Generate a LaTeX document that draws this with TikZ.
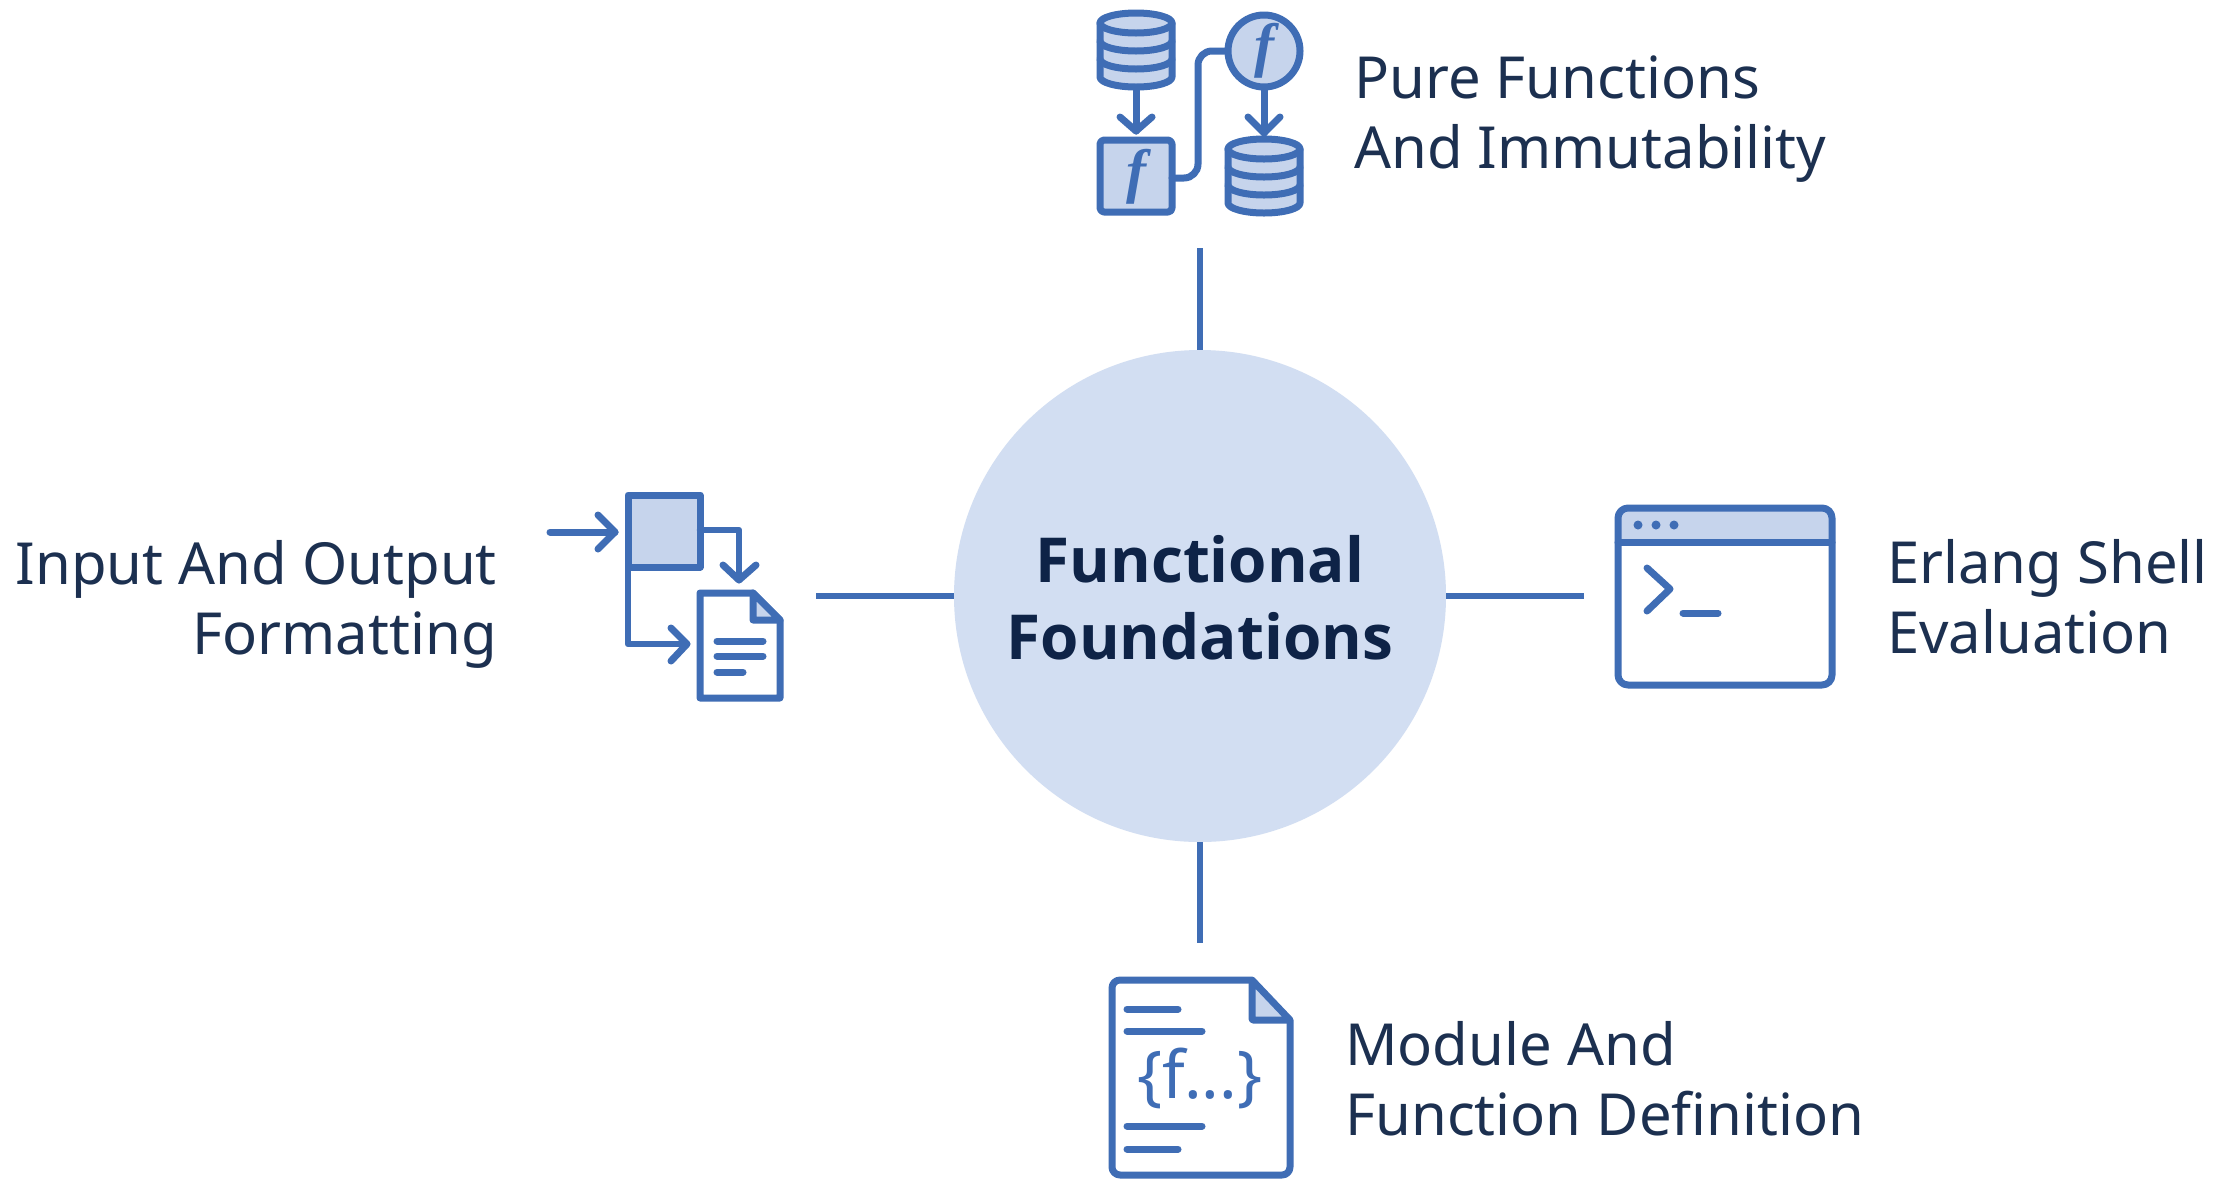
\documentclass[tikz,border=0pt]{standalone}
\usepackage{fontspec}
\setmainfont{Noto Sans}
\newfontfamily\hubfont{Open Sans}
\newfontfamily\funcfont{Liberation Serif}
\usetikzlibrary{calc}
\definecolor{iconblue}{HTML}{3F6DB5}
\definecolor{iconfill}{HTML}{C6D4EC}
\definecolor{hubfill}{HTML}{D2DEF2}
\definecolor{navy}{HTML}{0E2347}
\definecolor{labelink}{HTML}{1C3050}
\tikzset{
  x=1pt,y=-1pt,
  icon/.style={draw=iconblue,line width=7pt,line join=round,line cap=round},
  thin icon/.style={draw=iconblue,line width=6.5pt,line cap=round,line join=round},
  spoke/.style={draw=iconblue,line width=5.5pt},
  label/.style={font=\fontsize{58}{70}\selectfont,text=labelink,inner sep=0pt},
  funcf/.style={inner sep=0pt,text=iconblue,font=\funcfont\fontsize{60}{60}\selectfont\bfseries\itshape},
  hubnode/.style={circle,fill=hubfill,minimum size=492pt,inner sep=0pt},
  hubtext/.style={inner sep=0pt,align=center,text=navy,font=\hubfont\fontsize{62}{77}\selectfont\bfseries},
  pics/dbase/.style={code={
    \fill[iconfill] (-36,-27) -- (-36,27) arc[x radius=36,y radius=10,start angle=180,end angle=0] -- (36,-27) arc[x radius=36,y radius=10,start angle=0,end angle=-180] -- cycle;
    \draw[icon] (-36,-27) -- (-36,27) arc[x radius=36,y radius=10,start angle=180,end angle=0] -- (36,-27);
    \draw[icon] (0,-27) ellipse[x radius=36,y radius=10];
    \draw[icon] (-36,-9) arc[x radius=36,y radius=10,start angle=180,end angle=0];
    \draw[icon] (-36,9) arc[x radius=36,y radius=10,start angle=180,end angle=0];
  }}
}
\begin{document}
\begin{tikzpicture}
\useasboundingbox (0,0) rectangle (2221,1179);
\fill[white] (0,0) rectangle (2221,1179);
% hub
\node[hubnode] (hub) at (1200,596) {};
\node[hubtext] (hubt) at (1200,598) {Functional\\Foundations};
\coordinate (ntop) at (1200,248);
\coordinate (nbot) at (1200,943);
\coordinate (nleft) at (816,596);
\coordinate (nright) at (1584,596);
\draw[spoke] (hub) -- (ntop);
\draw[spoke] (hub) -- (nbot);
\draw[spoke] (hub) -- (nleft);
\draw[spoke] (hub) -- (nright);
% labels
\node[label,anchor=west,align=left] (lpure) at (1354,119) {Pure Functions\\And Immutability};
\node[label,anchor=east,align=right] (linput) at (497,604) {Input And Output\\Formatting};
\node[label,anchor=west,align=left] (lshell) at (1887,597) {Erlang Shell\\Evaluation};
\node[label,anchor=west,align=left] (lmodule) at (1345,1079) {Module And\\Function Definition};
% icon: pure functions
\pic at (1136,50) {dbase};
\pic at (1264,176) {dbase};
\draw[icon,fill=iconfill,rounded corners=4pt] (1100,140) rectangle (1172,212);
\node[draw=iconblue,line width=7pt,fill=iconfill,circle,minimum size=72pt,inner sep=0pt] (fcirc) at (1264,51) {};
\node[funcf] (f1) at (1136,177) {f};
\node[funcf] (f2) at (1264,51) {f};
\coordinate (sqr) at (1172,178);
\draw[icon,rounded corners=14pt] (sqr) -- (1198,178) -- (1198,51) -- (fcirc.west);
\coordinate (a1s) at (1136,90); \coordinate (a1e) at (1136,131);
\draw[icon] (a1s) -- (a1e);
\draw[icon] (1120,117) -- (a1e) -- (1152,117);
\coordinate (a2e) at (1264,133);
\draw[icon] (fcirc.south) -- (a2e);
\draw[icon] (1248,117) -- (a2e) -- (1280,117);
% icon: input/output
\draw[icon,fill=iconfill] (628,495) rectangle (700,567);
\coordinate (b1s) at (550,532); \coordinate (b1e) at (615,532);
\draw[icon] (b1s) -- (b1e);
\draw[icon] (598,515) -- (b1e) -- (598,549);
\coordinate (b2s) at (700,530); \coordinate (b2e) at (739,580);
\draw[thin icon] (b2s) -- (739,530) -- (b2e);
\draw[icon] (723,565) -- (b2e) -- (756,565);
\coordinate (b3s) at (628,567); \coordinate (b3e) at (687,644);
\draw[thin icon] (b3s) -- (628,644) -- (b3e);
\draw[icon] (671,628) -- (b3e) -- (671,661);
\draw[icon,fill=white] (700,593) -- (753,593) -- (780,620) -- (780,698) -- (700,698) -- cycle;
\fill[iconfill] (753,593) -- (780,620) -- (753,620) -- cycle;
\draw[icon] (753,593) -- (753,620) -- (780,620) -- cycle;
\draw[icon] (717,641) -- (763,641);
\draw[icon] (717,656) -- (763,656);
\draw[icon] (717,672) -- (743,672);
% icon: shell
\fill[iconfill,rounded corners=10pt] (1618,508) rectangle (1832,542);
\draw[icon,rounded corners=10pt] (1618,508) rectangle (1832,685);
\draw[icon] (1618,542) -- (1832,542);
\fill[iconblue] (1638,525) circle[radius=4.5] (1656,525) circle[radius=4.5] (1674,525) circle[radius=4.5];
\draw[icon] (1647,568) -- (1670,589) -- (1647,611);
\draw[icon] (1683,613) -- (1718,613);
% icon: module
\draw[icon,rounded corners=8pt] (1252,980) -- (1112,980) -- (1112,1175) -- (1290,1175) -- (1290,1020);
\draw[icon,fill=iconfill,rounded corners=1pt] (1252,980) -- (1252,1020) -- (1290,1020) -- cycle;
\draw[icon] (1127,1009) -- (1178,1009);
\draw[icon] (1127,1031) -- (1202,1031);
\draw[icon] (1127,1126) -- (1202,1126);
\draw[icon] (1127,1149) -- (1178,1149);
\node[inner sep=0pt,text=iconblue,font=\fontsize{66}{66}\selectfont\bfseries] (code) at (1200,1078) {\{f...\}};
\end{tikzpicture}
\end{document}
